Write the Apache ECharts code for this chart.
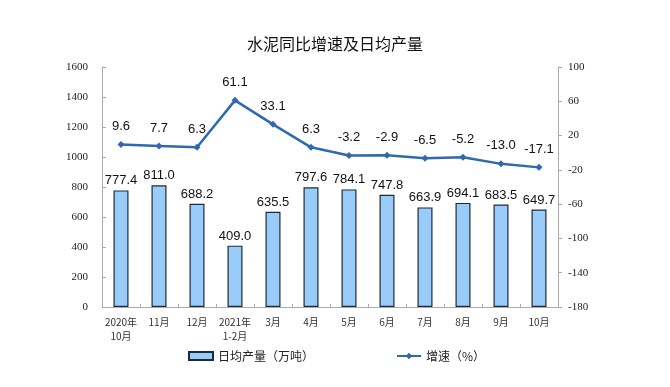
<!DOCTYPE html>
<html><head><meta charset="utf-8">
<script src="https://cdn.jsdelivr.net/npm/echarts@6/dist/echarts.min.js"></script>
<style>html,body{margin:0;padding:0;background:#fff}#c{width:670px;height:387px}</style>
</head><body><div id="c"></div>
<script>
const categories = ['2020年\n10月','11月','12月','2021年\n1-2月','3月','4月','5月','6月','7月','8月','9月','10月'];
const dailyOutput = [777.4,811.0,688.2,409.0,635.5,797.6,784.1,747.8,663.9,694.1,683.5,649.7];
const growth = [9.6,7.7,6.3,61.1,33.1,6.3,-3.2,-2.9,-6.5,-5.2,-13.0,-17.1];
const seriesNames = ['日均产量（万吨）','增速（%）'];
const titleText = '水泥同比增速及日均产量';

const chart = echarts.init(document.getElementById('c'), null, {renderer:'canvas'});
const cjk = '"Noto Sans CJK SC", sans-serif';
const numFont = '"Liberation Sans", Arial, sans-serif';
chart.setOption({
  animation:false,
  backgroundColor:'#fff',
  title:{text:titleText,left:'center',top:31,textStyle:{fontFamily:cjk,fontSize:16,fontWeight:'normal',color:'#111'}},
  grid:{left:102,right:112,top:67,bottom:80},
  legend:{
    left:183,top:345,itemGap:82,itemWidth:24,itemHeight:8,
    textStyle:{fontFamily:cjk,fontSize:12,color:'#222'},
    data:[{name:seriesNames[0],icon:'rect'},{name:seriesNames[1]}]
  },
  xAxis:{
    type:'category',data:categories,
    axisLine:{lineStyle:{color:'#aaa'}},
    axisTick:{show:true,inside:true,length:3,lineStyle:{color:'#aaa'}},
    axisLabel:{fontFamily:cjk,fontSize:10,color:'#333',margin:8,lineHeight:14,interval:0}
  },
  yAxis:[
    {type:'value',min:0,max:1600,interval:200,
     axisLine:{show:true,lineStyle:{color:'#aaa'}},
     axisTick:{show:true,inside:true,length:4,lineStyle:{color:'#aaa'}},
     splitLine:{show:false},
     axisLabel:{fontFamily:'"Liberation Serif", serif',fontSize:11,color:'#222',margin:14,formatter:v=>String(v)}},
    {type:'value',min:-180,max:100,interval:40,
     axisLine:{show:true,lineStyle:{color:'#aaa'}},
     axisTick:{show:true,inside:false,length:4,lineStyle:{color:'#aaa'}},
     splitLine:{show:false},
     axisLabel:{fontFamily:'"Liberation Serif", serif',fontSize:11,color:'#222',margin:10,formatter:v=>String(v)}}
  ],
  series:[
    {name:seriesNames[0],type:'bar',data:dailyOutput,barWidth:15,yAxisIndex:0,
     itemStyle:{color:'#99ccf8',borderColor:'#1c2b3c',borderWidth:1.2},
     label:{show:true,position:'top',distance:3,fontFamily:numFont,fontSize:13,color:'#111',
       formatter:p=>p.value.toFixed(1)}},
    {name:seriesNames[1],type:'line',data:growth,yAxisIndex:1,
     symbol:'diamond',symbolSize:7,
     lineStyle:{color:'#2e6aad',width:2.5},
     itemStyle:{color:'#2e6aad'},
     label:{show:true,position:'top',distance:8,fontFamily:numFont,fontSize:13,color:'#111',
       formatter:p=>p.value.toFixed(1)}}
  ]
});
</script></body></html>
